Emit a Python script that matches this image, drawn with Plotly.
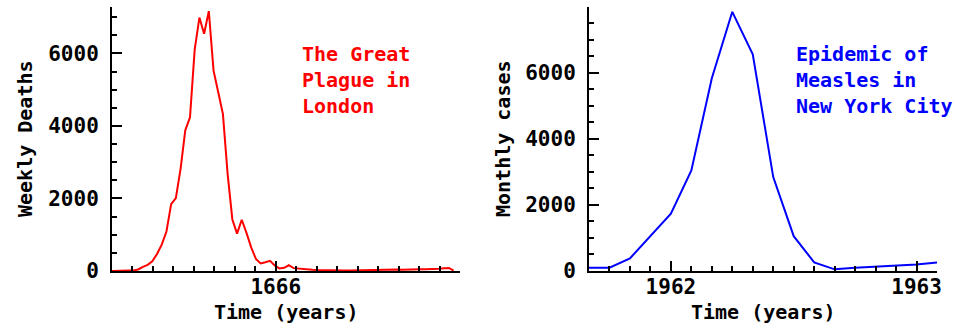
import plotly.graph_objects as go

# ---------------- data ----------------
# Great Plague of London: weekly deaths, one value per week starting late April 1665
plague_start_year = 1665.325
plague_deaths = [2, 0, 9, 3, 14, 17, 43, 112, 168, 267, 470, 725, 1089, 1843, 2010,
                 2817, 3880, 4237, 6102, 6988, 6544, 7165, 5533, 4929, 4327, 2665,
                 1421, 1031, 1414, 1050, 652, 333, 210, 243, 281, 152, 70, 89, 158,
                 79, 64, 56, 45, 32, 27, 28, 24, 29, 24, 20, 16, 14, 17, 15, 21, 29,
                 40, 45, 35, 38, 37, 40, 35, 33, 38, 45, 48, 50, 49, 52, 60, 75, 85, 10]

# Measles in New York City: monthly cases, starting September 1961
measles_start_year = 1961 + 8 / 12
measles_cases = [100, 100, 382, 1060, 1739, 3045, 5839, 7849, 6563, 2844, 1055,
                 261, 50, 100, 130, 160, 200, 260]

plague_label = "The Great<br>Plague in<br>London"
measles_label = "Epidemic of<br>Measles in<br>New York City"

plague_x = [plague_start_year + i * 7 / 365.25 for i in range(len(plague_deaths))]
measles_x = [measles_start_year + k / 12 for k in range(len(measles_cases))]

# ---------------- figure ----------------
W, H = 958, 326
FONT = "DejaVu Sans Mono"


def px_x(p):
    return p / W


def px_y(p):
    return 1 - p / H


fig = go.Figure()
fig.add_trace(go.Scatter(x=plague_x, y=plague_deaths, mode="lines",
                         line=dict(color="#ff0000", width=2), xaxis="x", yaxis="y",
                         showlegend=False))
fig.add_trace(go.Scatter(x=measles_x, y=measles_cases, mode="lines",
                         line=dict(color="#0000ff", width=2), xaxis="x2", yaxis="y2",
                         showlegend=False))

tickfont = dict(family=FONT, size=21, color="black", weight="bold")
common = dict(showline=True, linecolor="black", linewidth=2, ticks="inside",
              ticklen=10, tickwidth=2, tickcolor="black", showgrid=False,
              zeroline=False, tickfont=tickfont, mirror=False, automargin=False)
minor_common = dict(ticks="inside", ticklen=5, tickwidth=2, tickcolor="black",
                    showgrid=False)

yb, yt = px_y(271), px_y(7)
fig.update_layout(
    width=W, height=H,
    margin=dict(l=0, r=0, t=0, b=0, pad=0),
    paper_bgcolor="white", plot_bgcolor="white",
    xaxis=dict(domain=[px_x(112), px_x(460)], anchor="y", range=[1665 + 4 / 12, 1666.75],
               dtick=1, tick0=0, minor=dict(dtick=1 / 12, tick0=0, **minor_common),
               ticklabelstandoff=-4, **common),
    yaxis=dict(domain=[yb, yt], anchor="x", range=[0, 7280], dtick=2000,
               minor=dict(dtick=500, **minor_common),
               ticklabelstandoff=7, **common),
    xaxis2=dict(domain=[px_x(589), px_x(937)], anchor="y2",
                range=[1961 + 8 / 12, 1963 + 1 / 12],
                dtick=1, tick0=0, minor=dict(dtick=1 / 12, tick0=0, **minor_common),
                ticklabelstandoff=-4, **common),
    yaxis2=dict(domain=[yb, yt], anchor="x2", range=[0, 7995], dtick=2000,
                minor=dict(dtick=500, **minor_common),
                ticklabelstandoff=7, **common),
)

title_font = dict(family=FONT, size=20, color="black", weight="bold")
label_font_size = 20
annotations = [
    dict(text="Time (years)", x=px_x(286), y=px_y(312), xref="paper", yref="paper",
         xanchor="center", yanchor="middle", showarrow=False, font=title_font),
    dict(text="Time (years)", x=px_x(763), y=px_y(312), xref="paper", yref="paper",
         xanchor="center", yanchor="middle", showarrow=False, font=title_font),
    dict(text="Weekly Deaths", x=px_x(25), y=px_y(139), xref="paper", yref="paper",
         xanchor="center", yanchor="middle", showarrow=False, font=title_font,
         textangle=-90),
    dict(text="Monthly cases", x=px_x(503), y=px_y(139), xref="paper", yref="paper",
         xanchor="center", yanchor="middle", showarrow=False, font=title_font,
         textangle=-90),
    dict(text=plague_label, x=px_x(300), y=px_y(80), xref="paper", yref="paper",
         xanchor="left", yanchor="middle", align="left", showarrow=False,
         font=dict(family=FONT, size=label_font_size, color="#ff0000", weight="bold")),
    dict(text=measles_label, x=px_x(794), y=px_y(80), xref="paper", yref="paper",
         xanchor="left", yanchor="middle", align="left", showarrow=False,
         font=dict(family=FONT, size=label_font_size, color="#0000ff", weight="bold")),
]
fig.update_layout(annotations=annotations)

page_fix = (
    "var h=document.documentElement, b=document.body;"
    "h.style.margin='0'; h.style.padding='0'; h.style.overflow='hidden';"
    "b.style.margin='0'; b.style.padding='0'; b.style.overflow='hidden';"
)
fig.write_html("out.html", config={"displayModeBar": False}, post_script=page_fix)
